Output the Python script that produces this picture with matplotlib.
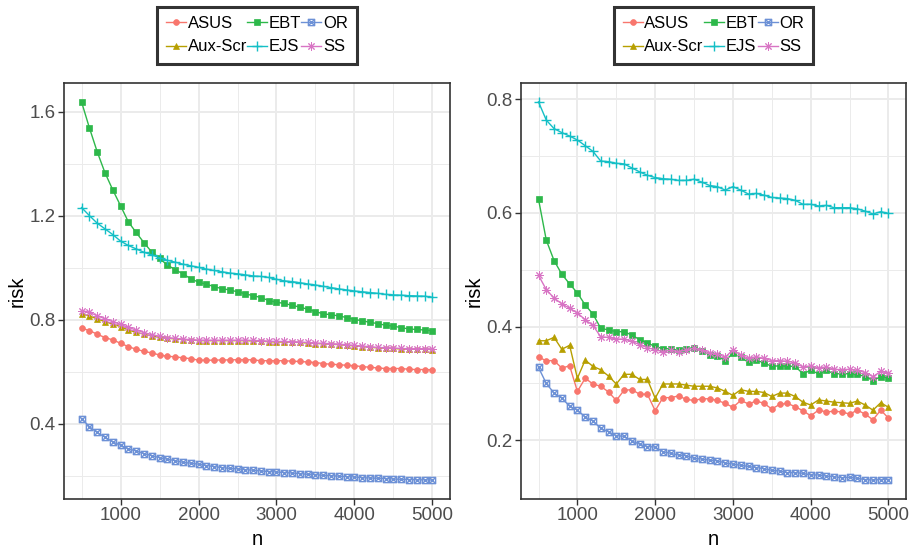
import matplotlib
matplotlib.use("Agg")
import matplotlib.pyplot as plt
from matplotlib.path import Path
import numpy as np

plt.rcParams['font.family'] = ['Liberation Sans', 'DejaVu Sans']

# sample sizes
n = list(range(500, 5001, 100))

# ---- left panel data ----
asus_l = [0.767, 0.758, 0.744, 0.731, 0.722, 0.709, 0.696, 0.686, 0.678, 0.672,
          0.664, 0.659, 0.657, 0.653, 0.650, 0.644, 0.644, 0.644, 0.645, 0.645,
          0.646, 0.646, 0.645, 0.642, 0.642, 0.642, 0.642, 0.640, 0.639, 0.637,
          0.635, 0.631, 0.628, 0.627, 0.624, 0.623, 0.619, 0.617, 0.614, 0.612,
          0.612, 0.612, 0.609, 0.608, 0.608, 0.607]
aux_l = [0.822, 0.814, 0.803, 0.792, 0.783, 0.773, 0.760, 0.751, 0.744, 0.737,
         0.732, 0.728, 0.726, 0.723, 0.722, 0.719, 0.719, 0.719, 0.719, 0.719,
         0.719, 0.719, 0.718, 0.717, 0.715, 0.714, 0.714, 0.713, 0.712, 0.710,
         0.708, 0.707, 0.705, 0.704, 0.701, 0.699, 0.696, 0.694, 0.691, 0.690,
         0.689, 0.687, 0.686, 0.686, 0.686, 0.685]
ebt_l = [1.637, 1.538, 1.446, 1.365, 1.299, 1.238, 1.176, 1.135, 1.096, 1.060,
         1.035, 1.010, 0.992, 0.976, 0.957, 0.944, 0.936, 0.927, 0.919, 0.914,
         0.907, 0.899, 0.892, 0.885, 0.873, 0.867, 0.862, 0.855, 0.848, 0.840,
         0.831, 0.822, 0.819, 0.814, 0.808, 0.800, 0.796, 0.789, 0.785, 0.778,
         0.775, 0.769, 0.764, 0.762, 0.760, 0.757]
ejs_l = [1.231, 1.200, 1.171, 1.149, 1.127, 1.102, 1.085, 1.072, 1.059, 1.049,
         1.038, 1.028, 1.021, 1.013, 1.007, 1.001, 0.994, 0.989, 0.984, 0.979,
         0.976, 0.972, 0.968, 0.966, 0.962, 0.955, 0.949, 0.946, 0.942, 0.937,
         0.933, 0.928, 0.923, 0.918, 0.914, 0.910, 0.907, 0.904, 0.901, 0.897,
         0.895, 0.894, 0.892, 0.891, 0.890, 0.886]
or_l = [0.419, 0.389, 0.366, 0.348, 0.330, 0.317, 0.303, 0.295, 0.285, 0.277,
        0.269, 0.263, 0.258, 0.251, 0.248, 0.244, 0.239, 0.235, 0.231, 0.228,
        0.226, 0.223, 0.221, 0.218, 0.216, 0.214, 0.212, 0.210, 0.208, 0.205,
        0.204, 0.201, 0.200, 0.198, 0.196, 0.195, 0.192, 0.191, 0.190, 0.189,
        0.187, 0.186, 0.185, 0.184, 0.184, 0.183]
ss_l = [0.835, 0.828, 0.815, 0.803, 0.792, 0.782, 0.770, 0.760, 0.750, 0.742,
        0.736, 0.731, 0.728, 0.725, 0.723, 0.721, 0.721, 0.721, 0.721, 0.721,
        0.721, 0.721, 0.720, 0.719, 0.717, 0.716, 0.716, 0.715, 0.714, 0.712,
        0.710, 0.709, 0.707, 0.706, 0.703, 0.701, 0.698, 0.696, 0.693, 0.692,
        0.691, 0.689, 0.688, 0.688, 0.688, 0.687]

# ---- right panel data ----
asus_r = [0.346, 0.340, 0.340, 0.327, 0.331, 0.286, 0.309, 0.299, 0.295, 0.285,
          0.270, 0.288, 0.289, 0.281, 0.281, 0.252, 0.275, 0.275, 0.278, 0.272,
          0.270, 0.273, 0.273, 0.270, 0.265, 0.258, 0.270, 0.264, 0.269, 0.265,
          0.255, 0.263, 0.265, 0.259, 0.252, 0.243, 0.253, 0.250, 0.251, 0.250,
          0.246, 0.253, 0.246, 0.236, 0.253, 0.239]
aux_r = [0.375, 0.375, 0.381, 0.360, 0.367, 0.309, 0.341, 0.330, 0.324, 0.313,
         0.299, 0.316, 0.316, 0.307, 0.307, 0.274, 0.299, 0.299, 0.299, 0.297,
         0.295, 0.295, 0.295, 0.292, 0.286, 0.279, 0.289, 0.286, 0.286, 0.284,
         0.277, 0.283, 0.283, 0.277, 0.267, 0.262, 0.271, 0.269, 0.267, 0.266,
         0.265, 0.269, 0.262, 0.253, 0.266, 0.258]
ebt_r = [0.624, 0.552, 0.516, 0.492, 0.475, 0.459, 0.438, 0.422, 0.397, 0.394,
         0.391, 0.391, 0.385, 0.377, 0.371, 0.365, 0.361, 0.361, 0.358, 0.361,
         0.363, 0.357, 0.350, 0.348, 0.340, 0.353, 0.346, 0.337, 0.341, 0.336,
         0.330, 0.331, 0.330, 0.330, 0.317, 0.323, 0.317, 0.323, 0.317, 0.317,
         0.317, 0.316, 0.312, 0.305, 0.312, 0.310]
ejs_r = [0.795, 0.763, 0.748, 0.741, 0.735, 0.728, 0.718, 0.708, 0.691, 0.690,
         0.687, 0.686, 0.679, 0.672, 0.666, 0.662, 0.660, 0.659, 0.657, 0.657,
         0.659, 0.654, 0.648, 0.646, 0.640, 0.646, 0.640, 0.633, 0.634, 0.631,
         0.627, 0.626, 0.625, 0.622, 0.615, 0.615, 0.612, 0.613, 0.609, 0.609,
         0.609, 0.607, 0.603, 0.598, 0.602, 0.599]
or_r = [0.328, 0.300, 0.283, 0.274, 0.260, 0.253, 0.241, 0.234, 0.221, 0.215,
        0.208, 0.207, 0.199, 0.193, 0.189, 0.188, 0.180, 0.177, 0.174, 0.173,
        0.168, 0.167, 0.165, 0.164, 0.160, 0.158, 0.156, 0.154, 0.152, 0.150,
        0.147, 0.146, 0.143, 0.143, 0.142, 0.139, 0.139, 0.137, 0.136, 0.134,
        0.135, 0.133, 0.131, 0.130, 0.131, 0.131]
ss_r = [0.490, 0.465, 0.450, 0.440, 0.432, 0.424, 0.412, 0.402, 0.382, 0.381,
        0.378, 0.378, 0.374, 0.368, 0.363, 0.359, 0.356, 0.358, 0.356, 0.359,
        0.362, 0.358, 0.354, 0.352, 0.346, 0.359, 0.350, 0.344, 0.347, 0.344,
        0.340, 0.340, 0.339, 0.336, 0.329, 0.331, 0.327, 0.329, 0.325, 0.324,
        0.325, 0.323, 0.319, 0.312, 0.321, 0.318]

methods = ['ASUS', 'Aux-Scr', 'EBT', 'EJS', 'OR', 'SS']
colors = ['#F8766D', '#B79F00', '#2DB84A', '#14BFC6', '#6D91D6', '#D874C4']

# square with a cross for OR (ggplot shape 7)
sq_x = Path([(-1, -1), (1, -1), (1, 1), (-1, 1), (-1, -1), (-1, -1), (1, 1), (-1, 1), (1, -1)],
            [Path.MOVETO, Path.LINETO, Path.LINETO, Path.LINETO, Path.CLOSEPOLY,
             Path.MOVETO, Path.LINETO, Path.MOVETO, Path.LINETO])
markers = ['o', '^', 's', '+', sq_x, (8, 2, 0)]
msizes = [4.2, 5, 5, 7, 4.5, 6]
mews = [0.5, 0.5, 0.5, 1.0, 1.0, 0.7]

panels = [
    [asus_l, aux_l, ebt_l, ejs_l, or_l, ss_l],
    [asus_r, aux_r, ebt_r, ejs_r, or_r, ss_r],
]
yticks = [[0.4, 0.8, 1.2, 1.6], [0.2, 0.4, 0.6, 0.8]]
yminor = [[0.2, 0.6, 1.0, 1.4], [0.3, 0.5, 0.7]]
ytlabels = [['0.4', '0.8', '1.2', '1.6'], ['0.2', '0.4', '0.6', '0.8']]

fig = plt.figure(figsize=(9.12, 5.5), dpi=100)
axes = [fig.add_axes([64/912, 51/550, 386/912, 416/550]),
        fig.add_axes([521/912, 51/550, 385/912, 416/550])]

for ax, data, yt, ym, ytl in zip(axes, panels, yticks, yminor, ytlabels):
    for i in range(len(methods)):
        hollow = methods[i] in ('OR', 'SS', 'EJS')
        ax.plot(n, data[i], color=colors[i], lw=1.0, marker=markers[i],
                ms=msizes[i], mew=mews[i],
                mfc='none' if hollow else colors[i], mec=colors[i],
                label=methods[i])
    allv = np.concatenate([np.array(d) for d in data])
    lo, hi = allv.min(), allv.max()
    pad = 0.05 * (hi - lo)
    ax.set_ylim(lo - pad, hi + pad)
    ax.set_xlim(500 - 225, 5000 + 225)
    ax.set_xticks([1000, 2000, 3000, 4000, 5000])
    ax.set_xticks([500, 1500, 2500, 3500, 4500], minor=True)
    ax.set_yticks(yt)
    ax.set_yticklabels(ytl)
    ax.set_yticks(ym, minor=True)
    ax.grid(True, which='major', color='#EBEBEB', lw=1.4)
    ax.grid(True, which='minor', color='#EBEBEB', lw=0.7)
    ax.set_axisbelow(True)
    ax.tick_params(which='major', length=4, width=1, color='#333333',
                   labelsize=13.5, labelcolor='#4D4D4D', pad=2)
    ax.tick_params(which='minor', length=0)
    for s in ax.spines.values():
        s.set_color('#333333')
        s.set_linewidth(1.2)
    ax.set_xlabel('n', fontsize=14.5, labelpad=4)
    ax.set_ylabel('risk', fontsize=14.5, labelpad=2)
    leg = ax.legend(loc='upper center', bbox_to_anchor=(0.5, 1.183), ncol=3,
                    fontsize=12, frameon=True, fancybox=False,
                    columnspacing=0.0, handlelength=1.2, handletextpad=0.1,
                    labelspacing=0.5, borderaxespad=0, borderpad=0.55)
    leg.get_frame().set_edgecolor('black')
    leg.get_frame().set_linewidth(2.2)

fig.savefig('out.png', dpi=100)
